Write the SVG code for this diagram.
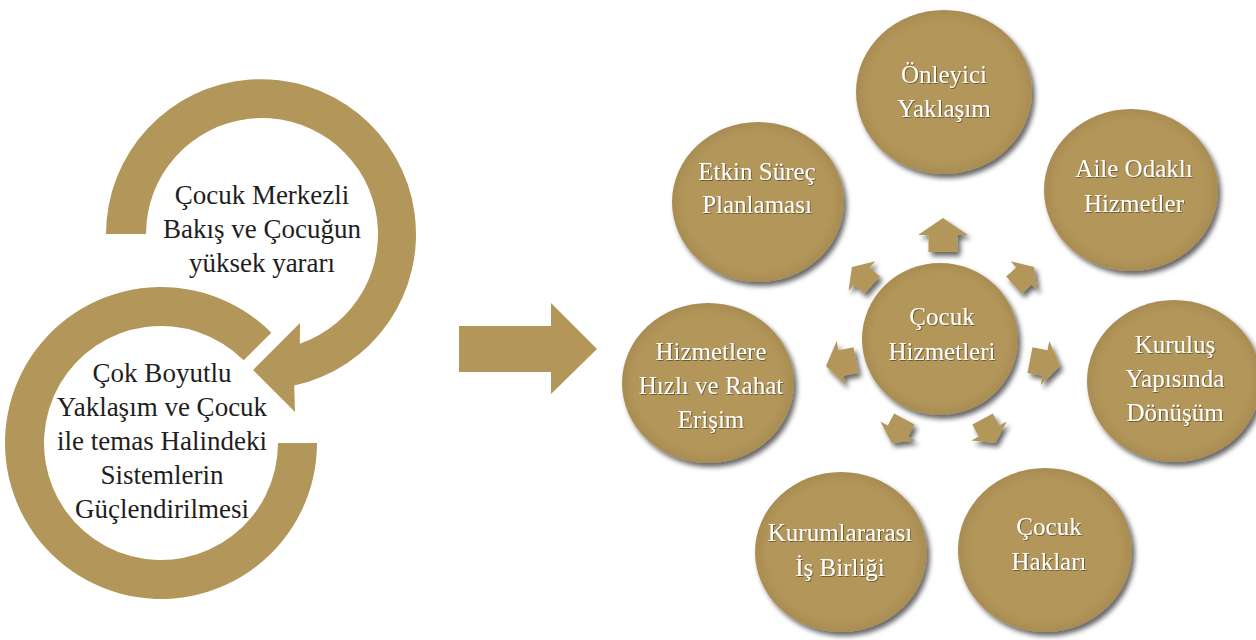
<svg xmlns="http://www.w3.org/2000/svg" xmlns:xlink="http://www.w3.org/1999/xlink" width="1256" height="640" viewBox="0 0 1256 640">
<style>
.gold{fill:#B3965A}
.ltxt{font-family:"Liberation Serif","DejaVu Serif",serif;font-size:27px;fill:#1e1e1e;text-anchor:middle}
.ctxt{font-family:"Liberation Serif","DejaVu Serif",serif;font-size:25px;fill:#ffffff;text-anchor:middle}
.node ellipse{fill:url(#g);filter:url(#sh)}
</style>
<defs>
<radialGradient id="g" cx="0.5" cy="0.5" r="0.5">
<stop offset="0.85" stop-color="#B3965A"/>
<stop offset="1" stop-color="#A98C51"/>
</radialGradient>
<filter id="sh" x="-20%" y="-20%" width="150%" height="150%">
<feDropShadow dx="3" dy="4" stdDeviation="2.5" flood-color="#000" flood-opacity="0.6"/>
</filter>
<filter id="ts" x="-10%" y="-20%" width="120%" height="150%">
<feDropShadow dx="0.8" dy="0.8" stdDeviation="0.6" flood-color="#3a2e14" flood-opacity="0.7"/>
</filter>
<path id="sa" d="M-17 -14.5 L0 -14.5 L0 -25 L17 0 L0 25 L0 14.5 L-17 14.5 Z"/>
</defs>

<g id="left-cycle">
<g id="ring-top">
<path class="gold" d="M106 234 A155 155 0 1 1 294.2 385.6 L295 412 L253 370 L300 323 L299.8 343.7 A116 116 0 1 0 146 234 Z"/>
<text class="ltxt" x="262" y="204">Çocuk Merkezli</text>
<text class="ltxt" x="262" y="238">Bakış ve Çocuğun</text>
<text class="ltxt" x="262" y="272">yüksek yararı</text>
</g>
<g id="ring-bottom">
<path class="gold" d="M317 443 A156 156 0 1 1 271.3 332.7 L243.7 360.3 A117 117 0 1 0 278 443 Z"/>
<text class="ltxt" x="162" y="382">Çok Boyutlu</text>
<text class="ltxt" x="162" y="416">Yaklaşım ve Çocuk</text>
<text class="ltxt" x="162" y="450">ile temas Halindeki</text>
<text class="ltxt" x="162" y="484">Sistemlerin</text>
<text class="ltxt" x="162" y="518">Güçlendirilmesi</text>
</g>
</g>

<g id="connectors">
<polygon id="big-arrow" class="gold" points="459,326 551,326 551,303 597,349 551,394 551,372 459,372"/>
<g class="gold" filter="url(#sh)">
<use xlink:href="#sa" href="#sa" transform="translate(943,235) rotate(-90)"/>
<use xlink:href="#sa" href="#sa" transform="translate(862,276) rotate(-138) scale(0.8)"/>
<use xlink:href="#sa" href="#sa" transform="translate(1024,276) rotate(-42) scale(0.8)"/>
<use xlink:href="#sa" href="#sa" transform="translate(841,363) rotate(169) scale(0.9)"/>
<use xlink:href="#sa" href="#sa" transform="translate(1045,363) rotate(11) scale(0.9)"/>
<use xlink:href="#sa" href="#sa" transform="translate(898,431) rotate(118) scale(0.8)"/>
<use xlink:href="#sa" href="#sa" transform="translate(989,431) rotate(62) scale(0.8)"/>
</g>
</g>

<g id="n-center" class="node">
<ellipse cx="940" cy="339" rx="78" ry="76"/>
<text class="ctxt" filter="url(#ts)" x="942" y="325">Çocuk</text>
<text class="ctxt" filter="url(#ts)" x="942" y="360">Hizmetleri</text>
</g>
<g id="n-onleyici" class="node">
<ellipse cx="944" cy="92" rx="88" ry="82"/>
<text class="ctxt" filter="url(#ts)" x="944" y="83">Önleyici</text>
<text class="ctxt" filter="url(#ts)" x="944" y="117">Yaklaşım</text>
</g>
<g id="n-aile" class="node">
<ellipse cx="1131" cy="190" rx="87" ry="81"/>
<text class="ctxt" filter="url(#ts)" x="1134" y="177">Aile Odaklı</text>
<text class="ctxt" filter="url(#ts)" x="1134" y="212">Hizmetler</text>
</g>
<g id="n-kurulus" class="node">
<ellipse cx="1174" cy="381" rx="87" ry="81"/>
<text class="ctxt" filter="url(#ts)" x="1175" y="353">Kuruluş</text>
<text class="ctxt" filter="url(#ts)" x="1175" y="387">Yapısında</text>
<text class="ctxt" filter="url(#ts)" x="1175" y="421">Dönüşüm</text>
</g>
<g id="n-haklari" class="node">
<ellipse cx="1045" cy="550" rx="87" ry="82"/>
<text class="ctxt" filter="url(#ts)" x="1049" y="535">Çocuk</text>
<text class="ctxt" filter="url(#ts)" x="1049" y="570">Hakları</text>
</g>
<g id="n-kurumlar" class="node">
<ellipse cx="841" cy="552" rx="86" ry="80"/>
<text class="ctxt" filter="url(#ts)" x="840" y="541">Kurumlararası</text>
<text class="ctxt" filter="url(#ts)" x="840" y="576">İş Birliği</text>
</g>
<g id="n-hizmetlere" class="node">
<ellipse cx="708" cy="383" rx="86" ry="80"/>
<text class="ctxt" filter="url(#ts)" x="711" y="360">Hizmetlere</text>
<text class="ctxt" filter="url(#ts)" x="711" y="394">Hızlı ve Rahat</text>
<text class="ctxt" filter="url(#ts)" x="711" y="428">Erişim</text>
</g>
<g id="n-etkin" class="node">
<ellipse cx="758" cy="202" rx="86" ry="80"/>
<text class="ctxt" filter="url(#ts)" x="757" y="180">Etkin Süreç</text>
<text class="ctxt" filter="url(#ts)" x="757" y="213">Planlaması</text>
</g>
</svg>
